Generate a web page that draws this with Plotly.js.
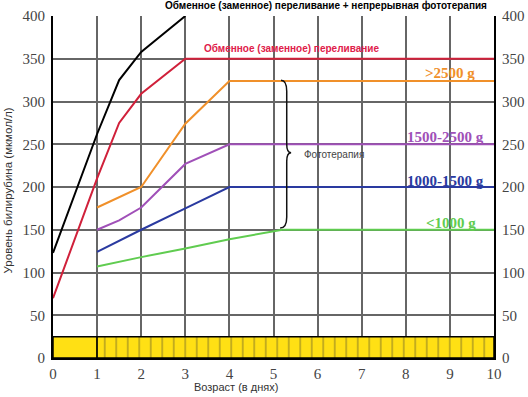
<!DOCTYPE html>
<html>
<head>
<meta charset="utf-8">
<script src="https://cdn.plot.ly/plotly-3.0.1.min.js"></script>
</head>
<body style="margin:0">
<div id="chart"></div>
<script>
// ---- data ----
const exchangePhotoX = [0, 1, 1.5, 2, 3];
const exchangePhotoY = [123, 262, 325, 358, 400];
const exchangeX = [0, 1, 1.5, 2, 3, 10];
const exchangeY = [70, 210, 275, 309, 350, 350];
const over2500X = [1, 2, 3, 4, 10];
const over2500Y = [176, 200, 274, 324, 324];
const w1500_2500X = [1, 1.5, 2, 3, 4, 10];
const w1500_2500Y = [150, 161, 176, 227, 250, 250];
const w1000_1500X = [1, 2, 3, 4, 10];
const w1000_1500Y = [124, 150, 175, 200, 200];
const under1000X = [1, 2, 3, 4, 5.2, 10];
const under1000Y = [107, 118, 128, 139, 150, 150];
const barStart = [0, 1];
const barEnd = [1, 10];
const barHeight = [25, 25];
const xTicks = [0,1,2,3,4,5,6,7,8,9,10];
const yTicks = [0,50,100,150,200,250,300,350,400];
const labels = {
  top: 'Обменное (заменное) переливание + непрерывная фототерапия',
  exchange: 'Обменное (заменное) переливание',
  g1: '>2500 g', g2: '1500-2500 g', g3: '1000-1500 g', g4: '<1000 g',
  photo: 'Фототерапия',
  xTitle: 'Возраст (в днях)',
  yTitle: 'Уровень билирубина (мкмол/л)'
};

const colors = {black:'#000000', red:'#D0203A', orange:'#F0902A', purple:'#A050B8', blue:'#2A3AA0', green:'#60CC50'};

function line(x, y, c) {
  return {type:'scatter', mode:'lines', x:x, y:y, line:{color:c, width:2}, hoverinfo:'skip', showlegend:false};
}

const traces = [
  {type:'bar', x:[(barStart[0]+barEnd[0])/2], y:[barHeight[0]], width:[barEnd[0]-barStart[0]],
   marker:{color:'#FFE014', line:{color:'#000', width:1.5}}, showlegend:false, hoverinfo:'skip'},
  {type:'bar', x:[(barStart[1]+barEnd[1])/2], y:[barHeight[1]], width:[barEnd[1]-barStart[1]],
   marker:{color:'#FFE014', line:{color:'#000', width:1.5},
     pattern:{shape:'|', size:11.5, solidity:0.1, fgcolor:'#333', fillmode:'overlay'}},
   showlegend:false, hoverinfo:'skip'},
  line(exchangePhotoX, exchangePhotoY, colors.black),
  line(exchangeX, exchangeY, colors.red),
  line(over2500X, over2500Y, colors.orange),
  line(w1500_2500X, w1500_2500Y, colors.purple),
  line(w1000_1500X, w1000_1500Y, colors.blue),
  line(under1000X, under1000Y, colors.green),
  {type:'scatter', mode:'markers', x:[0, 10], y:[yTicks[0], yTicks[yTicks.length-1]], yaxis:'y2',
   marker:{opacity:0, size:1}, hoverinfo:'skip', showlegend:false}
];

const SERIF = 'Liberation Serif';
const SANS = 'Liberation Sans';
const serifBold = (c) => ({family:SERIF, size:15, color:c, weight:'bold'});

const layout = {
  width:528, height:397,
  margin:{l:53, r:34, t:16, b:39, pad:0},
  paper_bgcolor:'#fff', plot_bgcolor:'#fff',
  font:{family:SERIF, size:15, color:'#444'},
  showlegend:false,
  barmode:'overlay',
  xaxis:{range:[0,10], tickmode:'array', tickvals:xTicks, showgrid:true, gridcolor:'#666', gridwidth:1.5,
    zeroline:false, showline:true, linecolor:'#000', linewidth:2, ticks:'outside', ticklen:1, tickcolor:'rgba(0,0,0,0)',
    tickfont:{family:SERIF, size:15}},
  yaxis:{range:[0,400], tickmode:'array', tickvals:yTicks, showgrid:true, gridcolor:'#666', gridwidth:1.5,
    zeroline:false, showline:true, linecolor:'#000', linewidth:2, ticks:'outside', ticklen:3, tickcolor:'rgba(0,0,0,0)',
    tickfont:{family:SERIF, size:15}},
  yaxis2:{range:[0,400], tickmode:'array', tickvals:yTicks, overlaying:'y', side:'right', showgrid:false, zeroline:false,
    showline:true, linecolor:'#000', linewidth:2, ticks:'outside', ticklen:3, tickcolor:'rgba(0,0,0,0)',
    tickfont:{family:SERIF, size:15}},
  shapes:[
    {type:'path', xref:'x', yref:'y',
     path:'M 5.17,325 Q 5.30,325 5.30,312 L 5.30,250 Q 5.30,240 5.40,240 Q 5.30,240 5.30,230 L 5.30,165 Q 5.30,152 5.15,152',
     line:{color:'#111', width:1.5}}
  ],
  annotations:[
    {text:labels.top, xref:'paper', yref:'paper', x:0.62, y:1.03, xanchor:'center', yanchor:'middle', showarrow:false,
     font:{family:SANS, size:10, color:'#000', weight:'bold'}},
    {text:labels.exchange, xref:'x', yref:'y', x:5.4, y:362, xanchor:'center', yanchor:'middle', showarrow:false,
     font:{family:SANS, size:10, color:'#E0204A', weight:'bold'}},
    {text:labels.g1, xref:'paper', yref:'y', x:(477-53)/441, y:333, xanchor:'right', yanchor:'middle', showarrow:false, font:serifBold(colors.orange)},
    {text:labels.g2, xref:'paper', yref:'y', x:(486-53)/441, y:259, xanchor:'right', yanchor:'middle', showarrow:false, font:serifBold(colors.purple)},
    {text:labels.g3, xref:'paper', yref:'y', x:(486-53)/441, y:207, xanchor:'right', yanchor:'middle', showarrow:false, font:serifBold(colors.blue)},
    {text:labels.g4, xref:'paper', yref:'y', x:(478-53)/441, y:158, xanchor:'right', yanchor:'middle', showarrow:false, font:serifBold(colors.green)},
    {text:labels.photo, xref:'x', yref:'y', x:5.65, y:238, xanchor:'left', yanchor:'middle', showarrow:false,
     font:{family:SANS, size:10, color:'#444'}},
    {text:labels.xTitle, xref:'paper', yref:'paper', x:(236-53)/441, y:(358-387)/342, xanchor:'center', yanchor:'middle', showarrow:false,
     font:{family:SANS, size:11, color:'#333'}},
    {text:labels.yTitle, xref:'paper', yref:'paper', x:(8-53)/441, y:0.49, xanchor:'center', yanchor:'middle', textangle:-90, showarrow:false,
     font:{family:SANS, size:11.5, color:'#333'}}
  ]
};

Plotly.newPlot('chart', traces, layout, {displayModeBar:false});
</script>
</body>
</html>
